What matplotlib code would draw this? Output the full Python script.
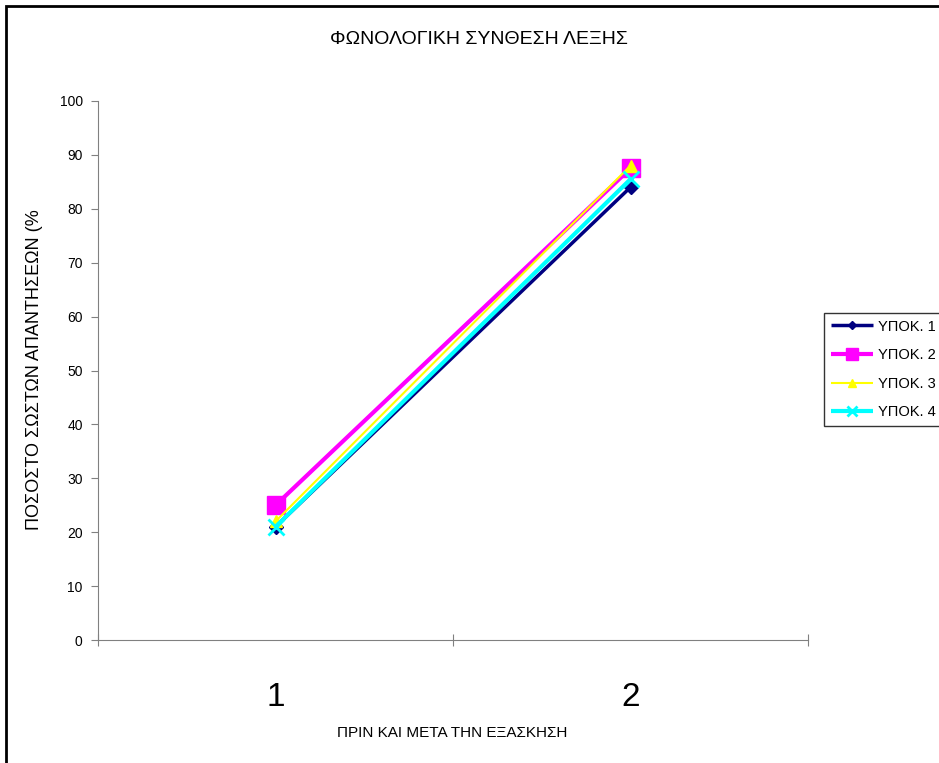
import matplotlib
matplotlib.use("Agg")
import matplotlib.pyplot as plt
import matplotlib.patches as patches

plt.rcParams['font.family'] = ['Liberation Sans', 'DejaVu Sans']

# data
stages = ["1", "2"]
series_names = ["ΥΠΟΚ. 1", "ΥΠΟΚ. 2", "ΥΠΟΚ. 3", "ΥΠΟΚ. 4"]
ypok1 = [21, 84]
ypok2 = [25, 87.5]
ypok3 = [22, 88]
ypok4 = [21, 85.5]
values = [ypok1, ypok2, ypok3, ypok4]

colors = ["#000080", "#FF00FF", "#FFFF00", "#00FFFF"]
markers = ["D", "s", "^", "x"]
msizes = [7, 13, 8, 12]
lws = [2.5, 3.0, 1.5, 3.0]

fig = plt.figure(figsize=(9.39, 7.63), dpi=100)
ax = fig.add_axes([98/939, 1-640/763, 710/939, 539/763])

x = list(range(len(stages)))
for i in range(4):
    ax.plot(x, values[i], color=colors[i], lw=lws[i], marker=markers[i],
            ms=msizes[i], mec=colors[i], mfc=colors[i], mew=2 if markers[i] == "x" else 1,
            label=series_names[i], solid_capstyle='butt')

ax.set_xlim(-0.5, 1.5)
ax.set_ylim(0, 100)
ax.set_yticks(range(0, 101, 10))
ax.tick_params(axis='y', labelsize=10, length=5, color='#808080', pad=6)
ax.set_xticks([-0.5, 0.5, 1.5])
ax.set_xticklabels([])
ax.tick_params(axis='x', which='major', length=8, direction='inout', color='#808080')
ax.set_xticks(x, minor=True)
ax.set_xticklabels(stages, minor=True, fontsize=24)
ax.tick_params(axis='x', which='minor', length=0, pad=30)

for s in ['top', 'right']:
    ax.spines[s].set_visible(False)
for s in ['left', 'bottom']:
    ax.spines[s].set_color('#808080')

fig.text(479/939, 1-40/763, "ΦΩΝΟΛΟΓΙΚΗ ΣΥΝΘΕΣΗ ΛΕΞΗΣ", ha='center', va='center', fontsize=14)
fig.text(452/939, 1-733/763, "ΠΡΙΝ ΚΑΙ ΜΕΤΑ ΤΗΝ ΕΞΑΣΚΗΣΗ", ha='center', va='center', fontsize=11)
fig.text(35/939, 1-370/763, "ΠΟΣΟΣΤΟ ΣΩΣΤΩΝ ΑΠΑΝΤΗΣΕΩΝ (%", ha='center', va='center',
         fontsize=13, rotation=90)

leg = ax.legend(loc='upper left', bbox_to_anchor=(824/939, 1-313/763),
                bbox_transform=fig.transFigure, frameon=True, fancybox=False,
                fontsize=10.5, handlelength=2.9, handletextpad=0.35, markerscale=0.65,
                borderpad=0.45, labelspacing=1.0, borderaxespad=0)
leg.get_frame().set_edgecolor('black')
leg.get_frame().set_linewidth(1)

# outer chart border
fig.patches.append(patches.Rectangle((6/939, -0.1), 2, 1-6/763+0.1, transform=fig.transFigure,
                                     fill=False, ec='black', lw=2))

fig.savefig("out.png", dpi=100)
